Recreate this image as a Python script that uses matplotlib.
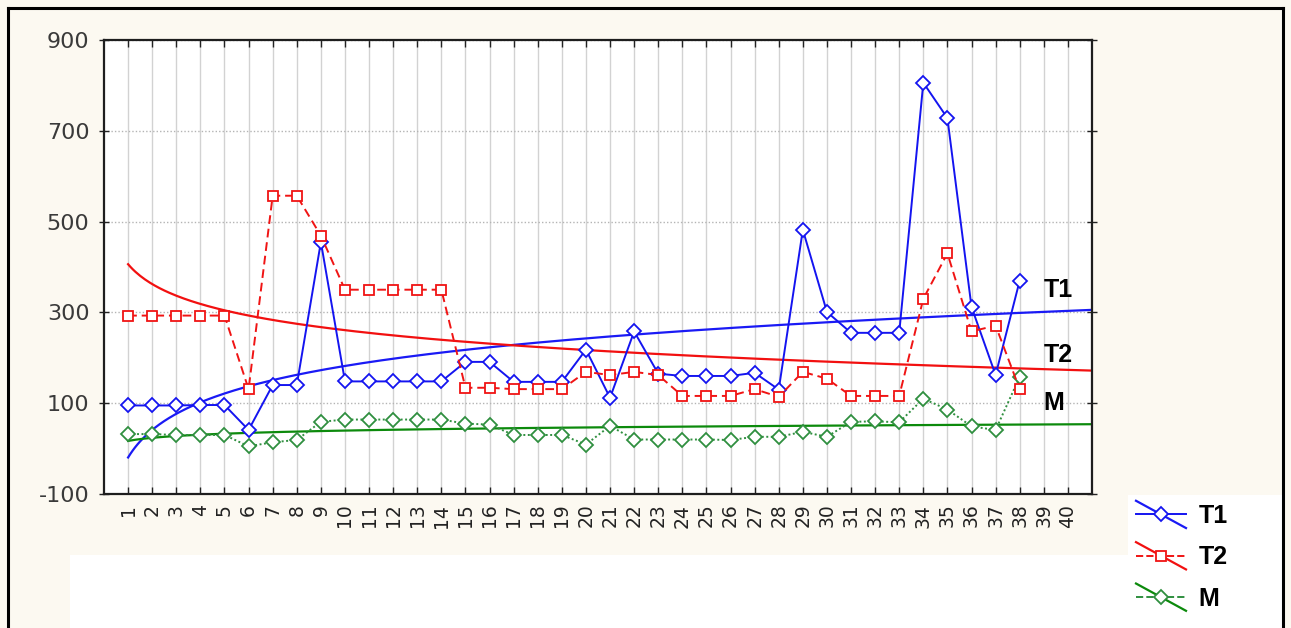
import numpy as np
import matplotlib
matplotlib.use("Agg")
import matplotlib.pyplot as plt
from matplotlib.lines import Line2D
from matplotlib.patches import Rectangle
from matplotlib.legend_handler import HandlerBase
from matplotlib.font_manager import FontProperties

# --- data -----------------------------------------------------------------
cases = list(range(1, 39))
x_tick_labels = [str(i) for i in range(1, 41)]
y_ticks = [-100, 100, 300, 500, 700, 900]

t1 = [95, 95, 95, 96, 96, 41, 140, 140, 455, 148,
      148, 148, 148, 148, 191, 191, 147, 147, 147, 218,
      112, 258, 165, 160, 160, 160, 167, 130, 482, 301,
      255, 255, 255, 806, 728, 312, 162, 370]

t2 = [293, 293, 293, 293, 293, 131, 557, 557, 469, 350,
      350, 350, 350, 350, 134, 134, 131, 131, 131, 169,
      162, 169, 162, 116, 116, 116, 131, 114, 169, 154,
      116, 116, 116, 330, 430, 258, 271, 131]

m = [32, 32, 30, 30, 30, 5, 14, 19, 59, 64,
     64, 64, 64, 64, 55, 53, 30, 30, 30, 9,
     50, 20, 20, 20, 20, 19, 26, 26, 37, 26,
     59, 60, 58, 110, 86, 49, 41, 158]

series_names = ["T1", "T2", "M"]

# --- figure ---------------------------------------------------------------
W, H = 1291, 628
fig = plt.figure(figsize=(W / 100, H / 100), dpi=100, facecolor="#fcf9f1")

# white backing strips under the axis labels and legend
fig.add_artist(Rectangle((70 / W, 0), (1283 - 70) / W, (H - 555) / H,
                         transform=fig.transFigure, facecolor="white",
                         edgecolor="none", zorder=0))
fig.add_artist(Rectangle((1128 / W, 0), (1283 - 1128) / W, (H - 495) / H,
                         transform=fig.transFigure, facecolor="white",
                         edgecolor="none", zorder=0))

# outer frame
for xs, ys in (([8, 8], [8, H]), ([8, 1283], [8, 8]), ([1283, 1283], [8, H])):
    fig.add_artist(Line2D([v / W for v in xs], [1 - v / H for v in ys],
                          transform=fig.transFigure, color="black", lw=2.2))

ax = fig.add_axes([104 / W, 1 - 494 / H, (1092 - 104) / W, (494 - 40) / H])
ax.set_facecolor("white")

x = np.array(cases, dtype=float)
xf = np.linspace(1, 41, 400)

styles = {
    "T1": dict(color="#1414f0", ls="-", marker="D", ms=7.2, mfc="white",
               trend="#1a1af5", z=4),
    "T2": dict(color="#f01414", ls=(0, (4.5, 2.5)), marker="s", ms=7.8,
               mfc="white", trend="#f21010", z=5),
    "M": dict(color="#2f8f3f", ls=(0, (1, 1.3)), marker="D", ms=7.2,
              mfc="white", trend="#0c8a0c", z=3),
}

handles = []
for name, vals in zip(series_names, (t1, t2, m)):
    st = styles[name]
    # logarithmic trend fitted to the series
    b, a = np.polyfit(np.log(x), np.array(vals, dtype=float), 1)
    trend, = ax.plot(xf, a + b * np.log(xf), color=st["trend"], lw=1.6,
                     zorder=2, clip_on=True)
    line, = ax.plot(x, vals, color=st["color"], ls=st["ls"], lw=1.4,
                    marker=st["marker"], ms=st["ms"], mfc=st["mfc"],
                    mec=st["color"], mew=1.3, zorder=st["z"])
    handles.append((line, trend))

ax.set_xlim(0, 41)
ax.set_ylim(-100, 900)
ax.set_xticks(range(1, 41))
ax.set_xticklabels(x_tick_labels, rotation=90, fontsize=13.5,
                   family="DejaVu Sans", color="#222222")
ax.set_yticks(y_ticks)
ax.set_yticklabels([f"{v:d}" for v in y_ticks],
                   fontsize=16, family="DejaVu Sans", color="#3a3a3a")

ax.tick_params(axis="x", direction="in", top=True, bottom=True, length=5,
               width=1.0, pad=7, color="#222222")
ax.tick_params(axis="y", direction="inout", left=True, right=True, length=7,
               width=1.0, pad=7, color="#222222")

ax.grid(axis="x", color="#d2d2d2", lw=1.0, ls="-", zorder=0)
ax.grid(axis="y", color="#b4b4b4", lw=1.0, ls=(0, (1, 1.5)), zorder=0)
ax.set_axisbelow(True)
for sp in ax.spines.values():
    sp.set_color("#1e1e1e")
    sp.set_linewidth(1.6)

# series names next to the trend lines
label_font = FontProperties(family="Liberation Sans", weight="bold", size=18)
for name, yv in zip(series_names, (350, 206, 100)):
    ax.text(39.0, yv, name, fontproperties=label_font, color="black",
            ha="left", va="center", zorder=6)


# legend: series line with marker crossed by its trend line
class SeriesWithTrend:
    def __init__(self, series, trend):
        self.series = series
        self.trend = trend


class SeriesWithTrendHandler(HandlerBase):
    def create_artists(self, legend, orig_handle, xdescent, ydescent,
                       width, height, fontsize, trans):
        s, t = orig_handle.series, orig_handle.trend
        x0, x1 = -xdescent, -xdescent + width
        cy = -ydescent + height / 2
        horiz = Line2D([x0, x1], [cy, cy], color=s.get_color(),
                       ls=s.get_linestyle(), lw=s.get_linewidth())
        diag = Line2D([x0, x1], [cy + height * 0.55, cy - height * 0.55],
                      color=t.get_color(), lw=t.get_linewidth())
        mark = Line2D([(x0 + x1) / 2], [cy], ls="None", marker=s.get_marker(),
                      ms=s.get_markersize(), mfc="white",
                      mec=s.get_markeredgecolor(), mew=s.get_markeredgewidth())
        for art in (horiz, diag, mark):
            art.set_transform(trans)
        return [horiz, diag, mark]


leg_handles = [SeriesWithTrend(l, t) for l, t in handles]
fig.legend(leg_handles, series_names,
           handler_map={SeriesWithTrend: SeriesWithTrendHandler()},
           loc="upper left", bbox_to_anchor=(1136 / W, 1 - 502 / H),
           frameon=False, prop=label_font, handlelength=2.0,
           handleheight=1.15, labelspacing=0.62, handletextpad=0.5,
           borderpad=0, borderaxespad=0)

fig.savefig("out.png", dpi=100, facecolor=fig.get_facecolor())
